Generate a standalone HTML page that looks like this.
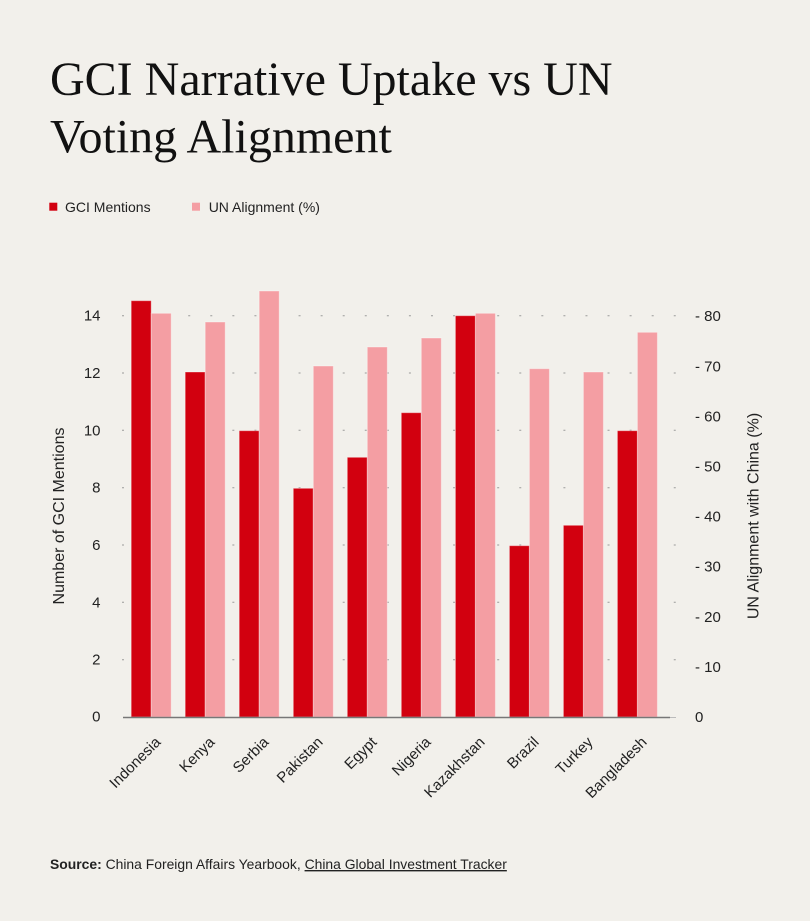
<!DOCTYPE html>
<html>
<head>
<meta charset="utf-8">
<style>
  html,body{margin:0;padding:0;background:#f2f0eb;}
  body{width:810px;height:921px;overflow:hidden;}
  svg{display:block;}
  text{font-family:"Liberation Sans",Arial,sans-serif;fill:#222;}
  .title{font-family:"Liberation Serif","Times New Roman",serif;font-size:48px;fill:#111;}
  .tick{font-size:15px;}
  .axt{font-size:16px;}
  .leg{font-size:14px;}
  .src{font-size:13.9px;}
</style>
</head>
<body>
<svg width="810" height="921" viewBox="0 0 810 921" xmlns="http://www.w3.org/2000/svg">
  <rect x="0" y="0" width="810" height="921" fill="#f2f0eb"/>

  <!-- Title -->
  <text class="title" x="50" y="95">GCI Narrative Uptake vs UN</text>
  <text class="title" x="50" y="152.7">Voting Alignment</text>

  <!-- Legend -->
  <rect x="49.3" y="202.7" width="8" height="8" fill="#d2000f"/>
  <text class="leg" x="65" y="212">GCI Mentions</text>
  <rect x="192" y="202.7" width="8" height="8" fill="#f49ea3"/>
  <text class="leg" x="208.7" y="212">UN Alignment (%)</text>

  <!-- Gridlines (dotted) -->
  <g stroke="#9a9a9a" stroke-width="1" stroke-dasharray="2 20.07" fill="none">
    <line x1="122" y1="315.7" x2="676" y2="315.7"/>
    <line x1="122" y1="373" x2="676" y2="373"/>
    <line x1="122" y1="430.3" x2="676" y2="430.3"/>
    <line x1="122" y1="487.7" x2="676" y2="487.7"/>
    <line x1="122" y1="545" x2="676" y2="545"/>
    <line x1="122" y1="602.3" x2="676" y2="602.3"/>
    <line x1="122" y1="659.7" x2="676" y2="659.7"/>
  </g>

  <!-- Bars -->
  <g stroke="rgba(255,255,255,0.35)" stroke-width="1">
    <rect x="131.2" y="300.7" width="20" height="416.3" fill="#d2000f"/>
    <rect x="151.2" y="313.3" width="20" height="403.7" fill="#f49ea3"/>
    <rect x="185.2" y="372" width="20" height="345" fill="#d2000f"/>
    <rect x="205.2" y="322" width="20" height="395" fill="#f49ea3"/>
    <rect x="239.2" y="430.7" width="20" height="286.3" fill="#d2000f"/>
    <rect x="259.2" y="291" width="20" height="426" fill="#f49ea3"/>
    <rect x="293.3" y="488.3" width="20" height="228.7" fill="#d2000f"/>
    <rect x="313.3" y="366" width="20" height="351" fill="#f49ea3"/>
    <rect x="347.3" y="457.3" width="20" height="259.7" fill="#d2000f"/>
    <rect x="367.3" y="347" width="20" height="370" fill="#f49ea3"/>
    <rect x="401.3" y="412.7" width="20" height="304.3" fill="#d2000f"/>
    <rect x="421.3" y="338" width="20" height="379" fill="#f49ea3"/>
    <rect x="455.4" y="315.7" width="20" height="401.3" fill="#d2000f"/>
    <rect x="475.4" y="313.3" width="20" height="403.7" fill="#f49ea3"/>
    <rect x="509.4" y="545.7" width="20" height="171.3" fill="#d2000f"/>
    <rect x="529.4" y="368.7" width="20" height="348.3" fill="#f49ea3"/>
    <rect x="563.4" y="525.3" width="20" height="191.7" fill="#d2000f"/>
    <rect x="583.4" y="372" width="20" height="345" fill="#f49ea3"/>
    <rect x="617.4" y="430.7" width="20" height="286.3" fill="#d2000f"/>
    <rect x="637.4" y="332.3" width="20" height="384.7" fill="#f49ea3"/>
  </g>

  <!-- Zero axis line -->
  <line x1="123" y1="717.5" x2="670" y2="717.5" stroke="#777" stroke-width="1.4"/>
  <line x1="670" y1="717.5" x2="676" y2="717.5" stroke="#bbb" stroke-width="1"/>

  <!-- Left ticks -->
  <g text-anchor="end">
    <text class="tick" x="100.5" y="721.5">0</text>
    <text class="tick" x="100.5" y="664.7">2</text>
    <text class="tick" x="100.5" y="607.3">4</text>
    <text class="tick" x="100.5" y="550">6</text>
    <text class="tick" x="100.5" y="492.7">8</text>
    <text class="tick" x="100.5" y="435.5">10</text>
    <text class="tick" x="100.5" y="378">12</text>
    <text class="tick" x="100.5" y="320.7">14</text>
  </g>

  <!-- Right ticks -->
  <g>
    <text class="tick" x="695" y="722">0</text>
    <text class="tick" x="695" y="671.9">- 10</text>
    <text class="tick" x="695" y="621.8">- 20</text>
    <text class="tick" x="695" y="571.7">- 30</text>
    <text class="tick" x="695" y="521.6">- 40</text>
    <text class="tick" x="695" y="471.5">- 50</text>
    <text class="tick" x="695" y="421.4">- 60</text>
    <text class="tick" x="695" y="371.3">- 70</text>
    <text class="tick" x="695" y="321.2">- 80</text>
  </g>

  <!-- Axis titles -->
  <text class="axt" text-anchor="middle" transform="translate(64,516) rotate(-90)">Number of GCI Mentions</text>
  <text class="axt" text-anchor="middle" transform="translate(758.5,516) rotate(-90)">UN Alignment with China (%)</text>

  <!-- X labels -->
  <g text-anchor="end">
    <text class="tick" transform="translate(161.5,743) rotate(-45)">Indonesia</text>
    <text class="tick" transform="translate(215.5,743) rotate(-45)">Kenya</text>
    <text class="tick" transform="translate(269.5,743) rotate(-45)">Serbia</text>
    <text class="tick" transform="translate(323.6,743) rotate(-45)">Pakistan</text>
    <text class="tick" transform="translate(377.6,743) rotate(-45)">Egypt</text>
    <text class="tick" transform="translate(431.6,743) rotate(-45)">Nigeria</text>
    <text class="tick" transform="translate(485.7,743) rotate(-45)">Kazakhstan</text>
    <text class="tick" transform="translate(539.7,743) rotate(-45)">Brazil</text>
    <text class="tick" transform="translate(593.7,743) rotate(-45)">Turkey</text>
    <text class="tick" transform="translate(647.7,743) rotate(-45)">Bangladesh</text>
  </g>

  <!-- Source -->
  <text class="src" x="50" y="869"><tspan font-weight="bold">Source:</tspan> China Foreign Affairs Yearbook, <tspan text-decoration="underline">China Global Investment Tracker</tspan></text>
</svg>
</body>
</html>
